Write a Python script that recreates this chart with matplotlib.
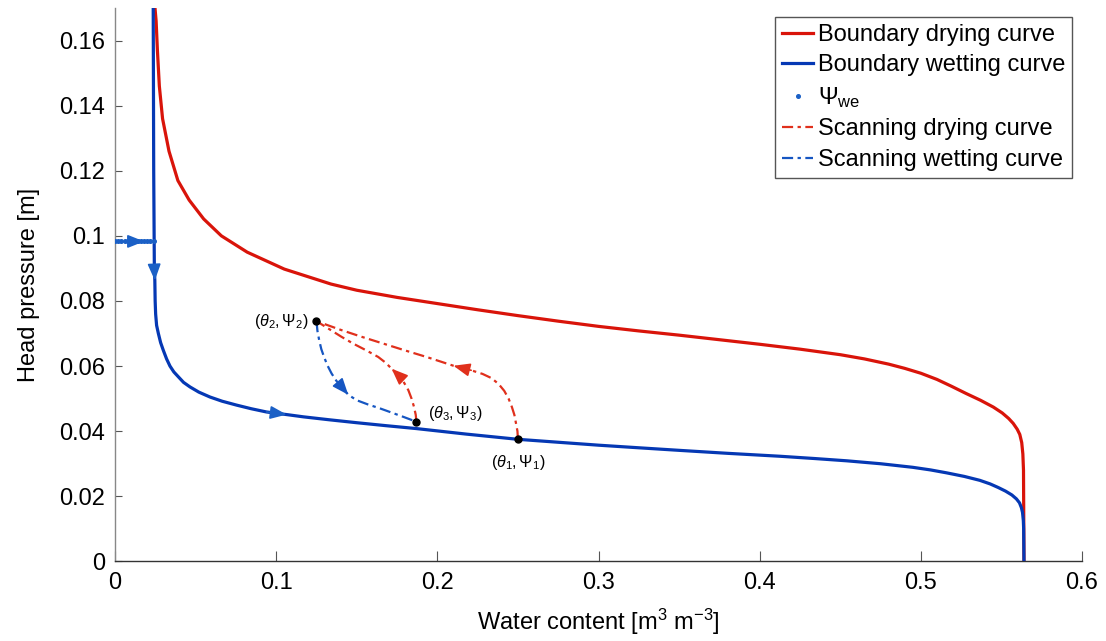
import numpy as np
import matplotlib
matplotlib.use("Agg")
import matplotlib.pyplot as plt

plt.rcParams['font.family'] = ['Liberation Sans', 'DejaVu Sans']
plt.rcParams['mathtext.fontset'] = 'custom'
plt.rcParams['mathtext.rm'] = 'Liberation Sans'
plt.rcParams['mathtext.it'] = 'Liberation Sans:italic'

# courbe principale d'humidification (theta, psi)
wet_theta = [0.0237, 0.0240, 0.0244, 0.0247, 0.0249, 0.0252, 0.0258, 0.0269, 0.0283,
             0.0300, 0.0320, 0.0341, 0.0365, 0.0393, 0.0425, 0.0465, 0.0520, 0.0589,
             0.0665, 0.0755, 0.0845, 0.0940, 0.1065, 0.1170, 0.1330, 0.150, 0.168,
             0.187, 0.218, 0.250, 0.275, 0.300, 0.325, 0.3505, 0.380, 0.4125, 0.434,
             0.454, 0.475, 0.495, 0.506, 0.516, 0.527, 0.5366, 0.543, 0.548, 0.5525,
             0.5565, 0.5593, 0.5612, 0.5624, 0.5631, 0.5636, 0.5638, 0.5640]
wet_psi = [0.170, 0.120, 0.0900, 0.0863, 0.0800, 0.0760, 0.0725, 0.0700, 0.0672,
           0.0648, 0.0622, 0.0600, 0.0582, 0.0567, 0.0550, 0.0536, 0.0520, 0.0505,
           0.0492, 0.0480, 0.0469, 0.0459, 0.0451, 0.0444, 0.0435, 0.0426, 0.0417,
           0.0408, 0.0391, 0.0375, 0.0366, 0.0357, 0.0349, 0.0341, 0.0332, 0.0323, 0.0316,
           0.0309, 0.0300, 0.0289, 0.0281, 0.0272, 0.0261, 0.0249, 0.0238, 0.0227, 0.0216,
           0.0204, 0.0192, 0.0180, 0.0165, 0.0150, 0.0125, 0.0100, 0.0]

# courbe principale de drainage
dry_theta = [0.0248, 0.0255, 0.0263, 0.0275, 0.0295, 0.0335, 0.0390, 0.0460, 0.0550,
             0.0660, 0.0820, 0.1050, 0.1340, 0.150, 0.175, 0.200, 0.225, 0.250, 0.275,
             0.300, 0.325, 0.350, 0.375, 0.400, 0.425, 0.450, 0.465, 0.480, 0.490,
             0.500, 0.510, 0.519, 0.528, 0.537, 0.545, 0.5505, 0.5545, 0.5573, 0.5598,
             0.5614, 0.5626, 0.5633, 0.5637, 0.5640]
dry_psi = [0.170, 0.166, 0.157, 0.146, 0.136, 0.126, 0.117, 0.111, 0.1052,
           0.1000, 0.0950, 0.0898, 0.0852, 0.0833, 0.0811, 0.0792, 0.0773, 0.0755, 0.0738,
           0.0722, 0.0708, 0.0695, 0.0681, 0.0667, 0.0652, 0.0635, 0.0622, 0.0606, 0.0593,
           0.0578, 0.0559, 0.0538, 0.0516, 0.0495, 0.0474, 0.0456, 0.0439, 0.0424, 0.0406,
           0.0390, 0.0365, 0.0330, 0.0280, 0.0]

# courbes de balayage
scan_dry1_theta = [0.250, 0.2497, 0.2488, 0.2478, 0.2462, 0.2442, 0.2415, 0.2380, 0.2336,
                   0.2280, 0.2210, 0.210, 0.1933, 0.180, 0.1665, 0.153, 0.1396, 0.125]
scan_dry1_psi = [0.0375, 0.0400, 0.0424, 0.0450, 0.0475, 0.0500, 0.0524, 0.0545, 0.0563,
                 0.0576, 0.0587, 0.0601, 0.0628, 0.0648, 0.0669, 0.0690, 0.0712, 0.0738]
scan_dry3_theta = [0.187, 0.1866, 0.1855, 0.1840, 0.182, 0.1790, 0.1748, 0.1716, 0.1680,
                   0.1633, 0.156, 0.1478, 0.1405, 0.1334, 0.125]
scan_dry3_psi = [0.0429, 0.0450, 0.0475, 0.0500, 0.0526, 0.0552, 0.0577, 0.0592, 0.0610,
                 0.0628, 0.0648, 0.0669, 0.0690, 0.0712, 0.0738]
scan_wet_theta = [0.125, 0.1256, 0.1267, 0.1280, 0.1297, 0.1318, 0.1344, 0.1373, 0.1406,
                  0.1447, 0.1500, 0.1570, 0.1644, 0.1717, 0.1789, 0.187]
scan_wet_psi = [0.0738, 0.0708, 0.0679, 0.0652, 0.0628, 0.0602, 0.0577, 0.0555, 0.0536,
                0.0512, 0.0495, 0.0482, 0.0470, 0.0457, 0.0444, 0.0429]

# points de retournement
turn_theta = [0.250, 0.125, 0.187]
turn_psi = [0.0375, 0.0738, 0.0429]
turn_labels = [r'$(\theta_1,\Psi_1)$', r'$(\theta_2,\Psi_2)$', r'$(\theta_3,\Psi_3)$']

# pression d'entree d'eau
we_theta = [0.0, 0.002, 0.004, 0.006, 0.008, 0.010, 0.012, 0.014, 0.016, 0.018, 0.020, 0.022, 0.024]
psi_we = 0.0983

RED = '#d9140a'
BLUE = '#0538b4'
RED2 = '#e0301c'
BLUE2 = '#1656c2'
ARR = '#1b60c6'


def fleche(ax, xs, ys, tip, color):
    # pointe de fleche posee sur le segment qui arrive au point d'abscisse tip
    i = xs.index(tip)
    ax.annotate('', xy=(xs[i], ys[i]), xytext=(xs[i - 1], ys[i - 1]),
                arrowprops=dict(arrowstyle='-|>,head_length=1.0,head_width=0.4',
                                color=color, lw=1.2, shrinkA=0, shrinkB=0,
                                mutation_scale=10), zorder=5)


fig = plt.figure(figsize=(11.06, 6.41), dpi=100)
ax = fig.add_axes([0.104, 0.1242, 0.8743, 0.8633])

ax.plot(dry_theta, dry_psi, color=RED, lw=2.3, label='Boundary drying curve', zorder=3)
ax.plot(wet_theta, wet_psi, color=BLUE, lw=2.3, label='Boundary wetting curve', zorder=4)
ax.plot(we_theta, [psi_we] * len(we_theta), ls='none', marker='o', ms=2.6, color=ARR,
        label=r'$\Psi_{\rm we}$', zorder=4)
ax.plot(scan_dry1_theta, scan_dry1_psi, color=RED2, lw=1.6, dashes=(5, 2, 1.5, 2),
        label='Scanning drying curve', zorder=3)
ax.plot(scan_dry3_theta, scan_dry3_psi, color=RED2, lw=1.6, dashes=(5, 2, 1.5, 2), zorder=3)
ax.plot(scan_wet_theta, scan_wet_psi, color=BLUE2, lw=1.6, dashes=(5, 2, 1.5, 2),
        label='Scanning wetting curve', zorder=3)
ax.plot(turn_theta, turn_psi, ls='none', marker='o', ms=5, color='k', zorder=6)

# fleches de sens de parcours
fleche(ax, wet_theta, wet_psi, 0.0247, ARR)
fleche(ax, wet_theta, wet_psi, 0.1065, ARR)
fleche(ax, we_theta, [psi_we] * len(we_theta), 0.018, ARR)
fleche(ax, scan_dry1_theta, scan_dry1_psi, 0.210, RED2)
fleche(ax, scan_dry3_theta, scan_dry3_psi, 0.1716, RED2)
fleche(ax, scan_wet_theta, scan_wet_psi, 0.1447, BLUE2)

# etiquettes des points
ax.annotate(turn_labels[0], (turn_theta[0], turn_psi[0]), xytext=(0, -10),
            textcoords='offset points', ha='center', va='top', fontsize=11.5)
ax.annotate(turn_labels[1], (turn_theta[1], turn_psi[1]), xytext=(-6, 0),
            textcoords='offset points', ha='right', va='center', fontsize=11.5)
ax.annotate(turn_labels[2], (turn_theta[2], turn_psi[2]), xytext=(8, 6),
            textcoords='offset points', ha='left', va='center', fontsize=11.5)

ax.set_xlim(0, 0.6)
ax.set_ylim(0, 0.17)
ax.set_xticks([0, 0.1, 0.2, 0.3, 0.4, 0.5, 0.6])
ax.set_xticklabels(['0', '0.1', '0.2', '0.3', '0.4', '0.5', '0.6'])
ax.set_yticks([0, 0.02, 0.04, 0.06, 0.08, 0.1, 0.12, 0.14, 0.16])
ax.set_yticklabels(['0', '0.02', '0.04', '0.06', '0.08', '0.1', '0.12', '0.14', '0.16'])
ax.tick_params(axis='both', direction='in', labelsize=17, color='#555555', labelcolor='black')
ax.tick_params(axis='x', length=7, pad=8)
ax.tick_params(axis='y', length=5, pad=7)
for s in ['top', 'right']:
    ax.spines[s].set_visible(False)
ax.spines['left'].set_color('#888888')
ax.spines['bottom'].set_color('#333333')
for s in ['left', 'bottom']:
    ax.spines[s].set_linewidth(1.0)

ax.set_xlabel(r'Water content [m$^3$ m$^{-3}$]', fontsize=17, labelpad=9)
ax.set_ylabel('Head pressure [m]', fontsize=17, labelpad=14)

leg = ax.legend(loc='upper right', bbox_to_anchor=(0.99, 0.984), borderaxespad=0,
                fontsize=17, handlelength=1.3, handletextpad=0.2, labelspacing=0.36,
                borderpad=0.3, fancybox=False, framealpha=1, edgecolor='#555555')
leg.get_frame().set_linewidth(1.0)

fig.savefig('out.png', dpi=100)
